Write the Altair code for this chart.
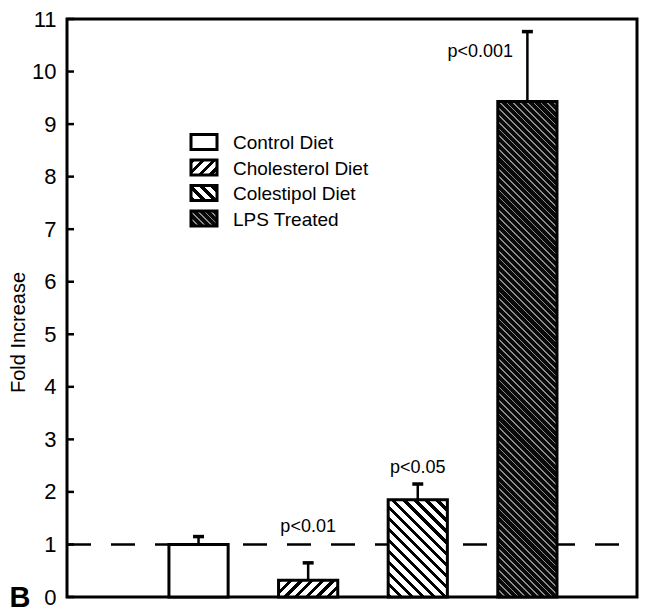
import math
import altair as alt
import pandas as pd

# ---------------- data ----------------
categories = ["Control Diet", "Cholesterol Diet", "Colestipol Diet", "LPS Treated"]
fold_increase = [1.0, 0.32, 1.85, 9.43]
error_upper = [1.15, 0.65, 2.15, 10.76]
p_labels = ["", "p<0.01", "p<0.05", "p<0.001"]
p_label_y = [None, 1.33, 2.46, 10.38]
p_label_x_shift = [0.0, 0.0, 0.0, -0.43]
y_ticks = list(range(0, 12))
reference_level = 1.0
y_title = "Fold Increase"
panel_label = "B"

# ---------------- layout / style ----------------
W, H = 570, 578
X_DOMAIN = [-0.2, 5.0]
Y_DOMAIN = [0, 11]
BAR_HALF = 0.27
CAP_HALF = 0.05
FONT = "Liberation Sans"
PX_X = W / (X_DOMAIN[1] - X_DOMAIN[0])
PX_Y = H / (Y_DOMAIN[1] - Y_DOMAIN[0])
BAR_W = 2 * BAR_HALF * PX_X

# pattern style per category: (direction, period px, line px, line colour, background)
patterns = [
    None,
    ("/", 7.5, 3.0, "black", "white"),
    ("\\", 7.8, 3.2, "black", "white"),
    ("\\", 4.8, 1.2, "#8c8c8c", "#0a0a0a"),
]


def stripes(w, h, spec):
    """Linear gradient with hard stops that draws 45-degree hatching in a w x h box."""
    direction, period, line, line_color, bg = spec
    r = h / w
    L = w * (1 + r * r)
    k = (w + h) / L
    if direction == "/":
        x1, y1, x2, y2 = 0, 0, k, k * r
    else:
        x1, y1, x2, y2 = 0, 1, k, 1 - k * r
    span = w + h
    step = period * math.sqrt(2) / span
    lw = line * math.sqrt(2) / span
    stops = []
    t = 0.0
    while t < 1:
        a = min(t + lw, 1)
        b = min(t + step, 1)
        stops += [
            {"offset": round(t, 5), "color": line_color},
            {"offset": round(a, 5), "color": line_color},
            {"offset": round(a, 5), "color": bg},
            {"offset": round(b, 5), "color": bg},
        ]
        t += step
    return alt.Gradient(gradient="linear", x1=x1, y1=y1, x2=x2, y2=y2, stops=stops)


df = pd.DataFrame({
    "category": categories,
    "pos": list(range(1, len(categories) + 1)),
    "value": fold_increase,
    "err": error_upper,
    "plabel": p_labels,
    "py": p_label_y,
    "pshift": p_label_x_shift,
})
df["x0"] = df["pos"] - BAR_HALF
df["x1"] = df["pos"] + BAR_HALF
df["c0"] = df["pos"] - CAP_HALF
df["c1"] = df["pos"] + CAP_HALF
df["px"] = df["pos"] + df["pshift"]
df["zero"] = 0.0

xs = alt.Scale(domain=X_DOMAIN, nice=False, zero=False)
ys = alt.Scale(domain=Y_DOMAIN, nice=False, zero=False)
y_axis = alt.Axis(values=y_ticks, title=y_title)

base = alt.Chart(df)

ref_df = pd.DataFrame({"level": [reference_level]})
ref_line = alt.Chart(ref_df).mark_rule(
    color="black", strokeWidth=2.5, strokeDash=[24, 20]
).encode(
    x=alt.value(0), x2=alt.value(W),
    y=alt.Y("level:Q", scale=ys, axis=y_axis),
)

layers = [ref_line]

for i, cat in enumerate(categories):
    h = fold_increase[i] * PX_Y
    fill = "white" if patterns[i] is None else stripes(BAR_W, h, patterns[i])
    bar = base.transform_filter(alt.datum.category == cat).mark_rect(
        fill=fill, stroke="black", strokeWidth=3
    ).encode(
        x=alt.X("x0:Q", scale=xs, axis=None), x2="x1:Q",
        y=alt.Y("zero:Q", scale=ys, axis=y_axis), y2="value:Q",
    )
    layers.append(bar)

stems = base.mark_rule(color="black", strokeWidth=2.5).encode(
    x=alt.X("pos:Q", scale=xs, axis=None),
    y=alt.Y("value:Q", scale=ys, axis=y_axis), y2="err:Q"
)
caps = base.mark_rule(color="black", strokeWidth=3.5).encode(
    x=alt.X("c0:Q", scale=xs, axis=None), x2="c1:Q",
    y=alt.Y("err:Q", scale=ys, axis=y_axis)
)
plabels = base.transform_filter(alt.datum.plabel != "").mark_text(
    font=FONT, fontSize=18, color="black", baseline="middle", align="center"
).encode(
    x=alt.X("px:Q", scale=xs, axis=None),
    y=alt.Y("py:Q", scale=ys, axis=y_axis), text="plabel:N"
)

tick_df = pd.DataFrame({"tick": y_ticks})
ticks = alt.Chart(tick_df).mark_rule(color="black", strokeWidth=2.5).encode(
    x=alt.value(0), x2=alt.value(7), y=alt.Y("tick:Q", scale=ys, axis=y_axis)
)
layers += [stems, caps, plabels, ticks]

# legend drawn as marks
LEG_X0, LEG_X1 = 124, 150
LEG_Y0, LEG_DY = 123, 25.5
SW_W, SW_H = LEG_X1 - LEG_X0, 15
for i, cat in enumerate(categories):
    yc = LEG_Y0 + i * LEG_DY
    fill = "white" if patterns[i] is None else stripes(SW_W, SW_H, patterns[i])
    ldf = pd.DataFrame({"label": [cat]})
    sw = alt.Chart(ldf).mark_rect(fill=fill, stroke="black", strokeWidth=3).encode(
        x=alt.value(LEG_X0), x2=alt.value(LEG_X1),
        y=alt.value(yc - SW_H / 2), y2=alt.value(yc + SW_H / 2),
    )
    tx = alt.Chart(ldf).mark_text(
        font=FONT, fontSize=19, color="black", align="left", baseline="middle"
    ).encode(x=alt.value(LEG_X1 + 16), y=alt.value(yc + 1), text="label:N")
    layers += [sw, tx]

bl_df = pd.DataFrame({"label": [panel_label]})
b_text = alt.Chart(bl_df).mark_text(
    font=FONT, fontSize=29, fontWeight="bold", color="black",
    align="center", baseline="middle"
).encode(x=alt.value(-47), y=alt.value(H + 1), text="label:N")
layers.append(b_text)

chart = alt.layer(*layers).properties(
    width=W, height=H,
    padding={"left": 59, "top": 11, "right": 3, "bottom": 22},
    autosize="none",
    background="white",
).configure_view(
    stroke="black", strokeWidth=3
).configure_axisY(
    ticks=False, domain=False, grid=False,
    labelFont=FONT, labelFontSize=22, labelColor="black", labelPadding=11,
    titleFont=FONT, titleFontSize=20, titleFontWeight="normal",
    titleColor="black", titleX=-49, titleY=313, titleAngle=-90,
    titleAlign="center", titleBaseline="middle",
)

chart.save("out.html", embed_options={"renderer": "svg", "actions": False})
